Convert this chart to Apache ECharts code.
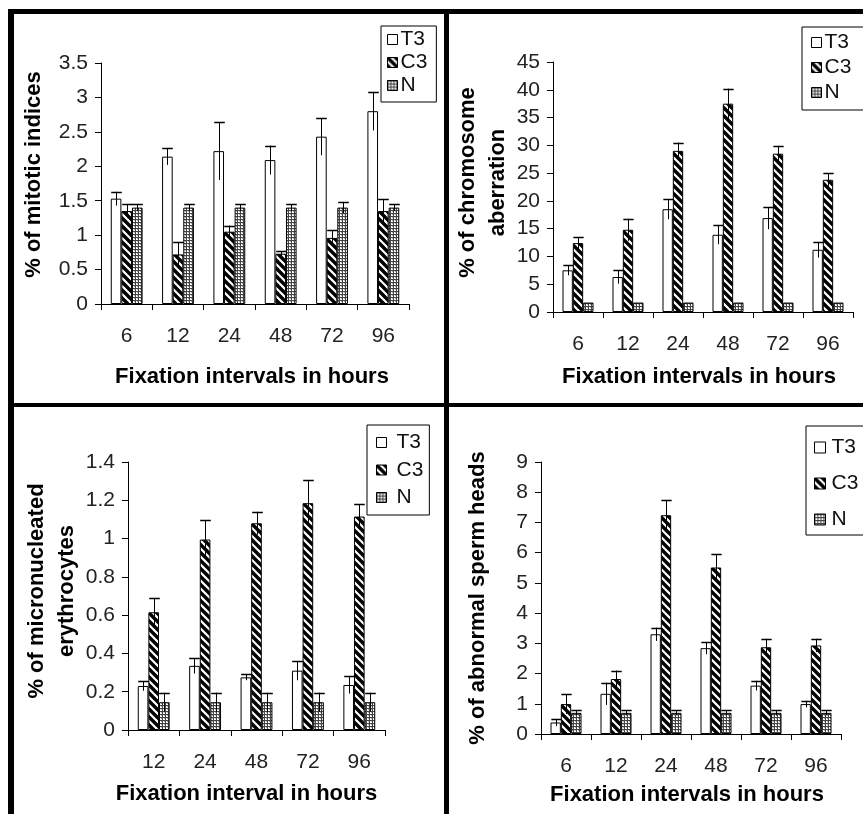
<!DOCTYPE html>
<html>
<head>
<meta charset="utf-8">
<script src="https://cdn.jsdelivr.net/npm/echarts@6/dist/echarts.min.js"></script>
<style>html,body{margin:0;padding:0;background:#fff}#c{width:863px;height:814px}</style>
</head>
<body>
<div id="c"></div>
<script>
// ---------- data ----------
const seriesNames = ['T3', 'C3', 'N'];

const hours6 = ['6', '12', '24', '48', '72', '96'];
const hours5 = ['12', '24', '48', '72', '96'];

// Panel 1: mitotic indices
const mitT3 = [1.53, 2.14, 2.22, 2.09, 2.43, 2.80];
const mitT3Err = [0.10, 0.12, 0.42, 0.21, 0.27, 0.28];
const mitC3 = [1.35, 0.72, 1.05, 0.73, 0.96, 1.35];
const mitC3Err = [0.10, 0.18, 0.09, 0.04, 0.11, 0.17];
const mitN = [1.40, 1.40, 1.40, 1.40, 1.40, 1.40];
const mitNErr = [0.05, 0.05, 0.05, 0.05, 0.08, 0.05];

// Panel 2: chromosome aberration
const caT3 = [7.5, 6.3, 18.5, 13.9, 16.9, 11.2];
const caT3Err = [0.9, 1.2, 1.8, 1.7, 2.0, 1.4];
const caC3 = [12.4, 14.8, 29.0, 37.5, 28.5, 23.8];
const caC3Err = [1.1, 2.0, 1.5, 2.7, 1.4, 1.2];
const caN = [1.7, 1.7, 1.7, 1.7, 1.7, 1.7];
const caNErr = [0, 0, 0, 0, 0, 0];

// Panel 3: micronucleated erythrocytes
const mnT3 = [0.23, 0.335, 0.275, 0.31, 0.235];
const mnT3Err = [0.025, 0.04, 0.015, 0.05, 0.045];
const mnC3 = [0.615, 0.995, 1.08, 1.185, 1.115];
const mnC3Err = [0.075, 0.10, 0.06, 0.12, 0.065];
const mnN = [0.145, 0.145, 0.145, 0.145, 0.145];
const mnNErr = [0.05, 0.05, 0.05, 0.05, 0.05];

// Panel 4: abnormal sperm heads
const shT3 = [0.38, 1.33, 3.3, 2.84, 1.6, 0.99];
const shT3Err = [0.12, 0.37, 0.22, 0.2, 0.16, 0.11];
const shC3 = [0.99, 1.82, 7.24, 5.51, 2.87, 2.93];
const shC3Err = [0.33, 0.28, 0.49, 0.44, 0.28, 0.22];
const shN = [0.7, 0.7, 0.7, 0.7, 0.7, 0.7];
const shNErr = [0.08, 0.08, 0.08, 0.08, 0.08, 0.08];

const yTitles = ['% of mitotic indices', '% of chromosome\naberration', '% of micronucleated\nerythrocytes', '% of abnormal sperm heads'];
const xTitles = ['Fixation intervals in hours', 'Fixation intervals in hours', 'Fixation interval in hours', 'Fixation intervals in hours'];
const yMax = [3.5, 45, 1.4, 9];
const yStep = [0.5, 5, 0.2, 1];

// ---------- patterns ----------
function hatch() {
  const c = document.createElement('canvas');
  c.width = 8; c.height = 8;
  const g = c.getContext('2d');
  g.fillStyle = '#fff'; g.fillRect(0, 0, 8, 8);
  g.strokeStyle = '#000'; g.lineWidth = 3.4;
  g.beginPath();
  g.moveTo(-2, -2); g.lineTo(10, 10);
  g.moveTo(-10, -2); g.lineTo(2, 10);
  g.moveTo(6, -2); g.lineTo(18, 10);
  g.stroke();
  return c;
}
function dots() {
  const c = document.createElement('canvas');
  c.width = 3; c.height = 3;
  const g = c.getContext('2d');
  g.fillStyle = '#fff'; g.fillRect(0, 0, 3, 3);
  g.fillStyle = '#444';
  g.fillRect(0, 0, 3, 1);
  g.fillRect(0, 0, 1, 3);
  g.fillStyle = '#aaa';
  g.fillRect(2, 1, 1, 1);
  return c;
}
const fills = ['#ffffff', { image: hatch(), repeat: 'repeat' }, { image: dots(), repeat: 'repeat' }];

// ---------- layout ----------
const grids = [
  { left: 101, top: 63, right: 454, bottom: 510 },
  { left: 553, top: 62, right: 10, bottom: 502 },
  { left: 128, top: 462, right: 478, bottom: 84 },
  { left: 541, top: 462, right: 22, bottom: 80 }
];
const yNameGap = [52, 31, 46, 48];
const yNamePad = [[0, 0, 0, 18], [0, 0, 0, 9], [0, 0, 0, 10], [0, 0, 0, 0]];
const xNameGap = [62, 54, 53, 50];
const xNamePad = [[0, 6, 0, 0], [0, 8, 0, 0], [0, 20, 0, 0], [0, 8, 0, 0]];
const legends = [
  { left: 381, top: 26, gap: 2, pad: [3, 9, 6, 6], textPad: -2, icon: 10 },
  { left: 802, top: 27, gap: 4, pad: [5, 14, 7, 9], textPad: -2, icon: 10 },
  { left: 367, top: 425, gap: 6.5, pad: [7, 6, 7, 9], textPad: 5, icon: 10 },
  { left: 806, top: 426, gap: 15, pad: [11, 20, 5, 8], textPad: 1, icon: 11 }
];

const panels = [
  { cats: hours6, vals: [mitT3, mitC3, mitN], errs: [mitT3Err, mitC3Err, mitNErr] },
  { cats: hours6, vals: [caT3, caC3, caN], errs: [caT3Err, caC3Err, caNErr] },
  { cats: hours5, vals: [mnT3, mnC3, mnN], errs: [mnT3Err, mnC3Err, mnNErr] },
  { cats: hours6, vals: [shT3, shC3, shN], errs: [shT3Err, shC3Err, shNErr] }
];

const tickFont = '"Liberation Sans", Arial, sans-serif';
const boldFont = '"Liberation Sans", Arial, sans-serif';
const CAT_GAP = 0.38;

const option = {
  backgroundColor: '#fff',
  animation: false,
  grid: grids.map(g => Object.assign({ containLabel: false }, g)),
  legend: legends.map((l, i) => ({
    data: seriesNames,
    orient: 'vertical',
    left: l.left, top: l.top,
    itemWidth: l.icon, itemHeight: l.icon,
    itemGap: l.gap,
    icon: 'rect',
    borderColor: '#000', borderWidth: 1,
    padding: l.pad,
    selectedMode: false,
    textStyle: { fontFamily: tickFont, fontSize: 21, color: '#111', lineHeight: 20, padding: [0, 0, 0, l.textPad] },
    itemStyle: { borderColor: '#000', borderWidth: 1 }
  })),
  xAxis: panels.map((p, i) => ({
    type: 'category', gridIndex: i, data: p.cats,
    name: xTitles[i], nameLocation: 'middle', nameGap: xNameGap[i],
    nameTextStyle: { fontFamily: boldFont, fontWeight: 'bold', fontSize: 22, color: '#000', padding: xNamePad[i] },
    axisLine: { lineStyle: { color: '#000', width: 1 } },
    axisTick: { show: true, length: 6, lineStyle: { color: '#000' } },
    axisLabel: { fontFamily: tickFont, fontSize: 21, color: '#222', margin: 22 },
    splitLine: { show: false }
  })),
  yAxis: panels.map((p, i) => ({
    type: 'value', gridIndex: i, min: 0, max: yMax[i], interval: yStep[i],
    name: yTitles[i], nameLocation: 'middle', nameGap: yNameGap[i],
    nameTextStyle: { fontFamily: boldFont, fontWeight: 'bold', fontSize: 22, color: '#000', lineHeight: 30, padding: yNamePad[i] },
    axisLine: { show: true, lineStyle: { color: '#000', width: 1 } },
    axisTick: { show: true, length: 6, lineStyle: { color: '#000' } },
    axisLabel: { fontFamily: tickFont, fontSize: 21, color: '#222', margin: 13 },
    splitLine: { show: false }
  })),
  graphic: [
    { type: 'rect', shape: { x: 8, y: 9, width: 855, height: 5 }, style: { fill: '#000' }, z: 100 },
    { type: 'rect', shape: { x: 8, y: 9, width: 6, height: 805 }, style: { fill: '#000' }, z: 100 },
    { type: 'rect', shape: { x: 444, y: 9, width: 5, height: 805 }, style: { fill: '#000' }, z: 100 },
    { type: 'rect', shape: { x: 8, y: 403, width: 855, height: 4 }, style: { fill: '#000' }, z: 100 }
  ],
  series: []
};

panels.forEach((p, pi) => {
  seriesNames.forEach((name, si) => {
    option.series.push({
      type: 'bar', name: name, xAxisIndex: pi, yAxisIndex: pi,
      data: p.vals[si],
      barGap: '0%', barCategoryGap: (CAT_GAP * 100) + '%',
      itemStyle: { color: fills[si], borderColor: '#000', borderWidth: 1 },
      emphasis: { disabled: true }
    });
  });
  seriesNames.forEach((name, si) => {
    option.series.push({
      type: 'custom', name: name, xAxisIndex: pi, yAxisIndex: pi, z: 10,
      data: p.vals[si].map((v, k) => [k, v, p.errs[si][k]]),
      encode: { x: 0, y: 1 },
      renderItem: function (params, api) {
        const e = api.value(2);
        if (!e) return null;
        const k = api.value(0), v = api.value(1);
        const top = api.coord([k, v + e]);
        const bot = api.coord([k, Math.max(0, v - e)]);
        const bw = api.size([1, 0])[0] * (1 - CAT_GAP) / 3;
        const x = Math.round(top[0] + (si - 1) * bw) + 0.5;
        const half = bw / 2;
        return {
          type: 'group',
          children: [
            { type: 'line', shape: { x1: x, y1: top[1], x2: x, y2: bot[1] }, style: { stroke: '#000', lineWidth: 1 } },
            { type: 'line', shape: { x1: x - half, y1: Math.round(top[1]) + 0.5, x2: x + half, y2: Math.round(top[1]) + 0.5 }, style: { stroke: '#000', lineWidth: 1.5 } }
          ]
        };
      }
    });
  });
});

const chart = echarts.init(document.getElementById('c'), null, { renderer: 'canvas' });
chart.setOption(option);
</script>
</body>
</html>
